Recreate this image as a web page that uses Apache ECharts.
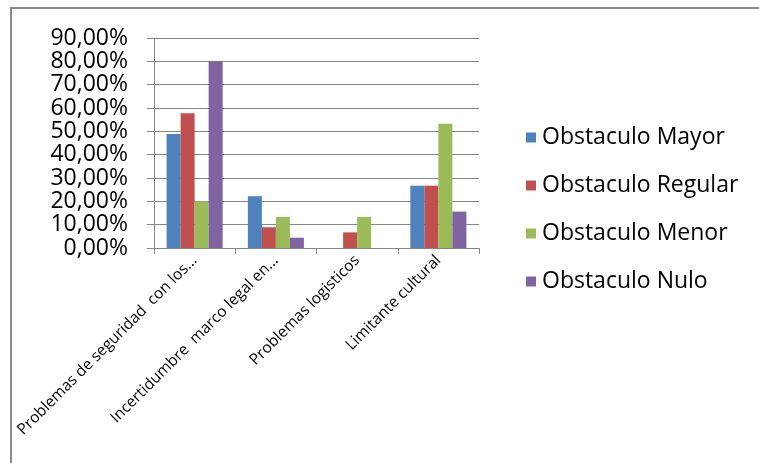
<!DOCTYPE html>
<html>
<head>
<meta charset="utf-8">
<script src="https://cdn.jsdelivr.net/npm/echarts@6/dist/echarts.min.js"></script>
<style>
  html, body { margin: 0; padding: 0; background: #fff; }
  #main { width: 759px; height: 463px; }
</style>
</head>
<body>
<div id="main"></div>
<script>
// categorias (tal como aparecen recortadas en el eje)
const categorias = [
  "Problemas de seguridad  con los...",
  "Incertidumbre  marco legal en...",
  "Problemas logisticos",
  "Limitante cultural"
];
const seriesNombres = ["Obstaculo Mayor", "Obstaculo Regular", "Obstaculo Menor", "Obstaculo Nulo"];
// valores en fraccion
const mayor = [0.489, 0.222, 0, 0.267];
const regular = [0.578, 0.089, 0.067, 0.267];
const menor = [0.20, 0.133, 0.133, 0.533];
const nulo = [0.80, 0.044, 0, 0.156];
const colores = ["#4F81BD", "#C0504D", "#9BBB59", "#8064A2"];

const chart = echarts.init(document.getElementById("main"));
const fuente = "'Open Sans', sans-serif";

const datos = [mayor, regular, menor, nulo];

chart.setOption({
  animation: false,
  color: colores,
  graphic: [{
    type: "rect",
    shape: { x: 11, y: 8, width: 760, height: 470 },
    style: { fill: "none", stroke: "#8a8a8a", lineWidth: 2 }
  }],
  legend: {
    orient: "vertical",
    left: 521,
    top: 121,
    itemWidth: 10,
    itemHeight: 10,
    itemGap: 25,
    icon: "rect",
    textStyle: { fontFamily: fuente, fontSize: 23, color: "#000", padding: [0, 0, 0, 1] },
    data: seriesNombres
  },
  grid: { left: 154, right: 280, top: 38, bottom: 215 },
  xAxis: {
    type: "category",
    data: categorias,
    axisLine: { lineStyle: { color: "#868686" } },
    axisTick: { show: true, length: 6, lineStyle: { color: "#868686" } },
    axisLabel: {
      rotate: 45,
      interval: 0,
      margin: 10,
      fontFamily: fuente,
      fontSize: 15.5,
      color: "#000"
    }
  },
  yAxis: {
    type: "value",
    min: 0,
    max: 0.9,
    interval: 0.1,
    axisLine: { show: true, lineStyle: { color: "#868686" } },
    axisTick: { show: true, length: 7, lineStyle: { color: "#868686" } },
    splitLine: { lineStyle: { color: "#868686" } },
    axisLabel: {
      margin: 26,
      fontFamily: fuente,
      fontSize: 23,
      color: "#000",
      formatter: v => (v * 100).toFixed(2).replace(".", ",") + "%"
    }
  },
  series: seriesNombres.map((n, i) => ({
    name: n,
    type: "bar",
    data: datos[i],
    barGap: "0%",
    barCategoryGap: "31%"
  }))
});
</script>
</body>
</html>
